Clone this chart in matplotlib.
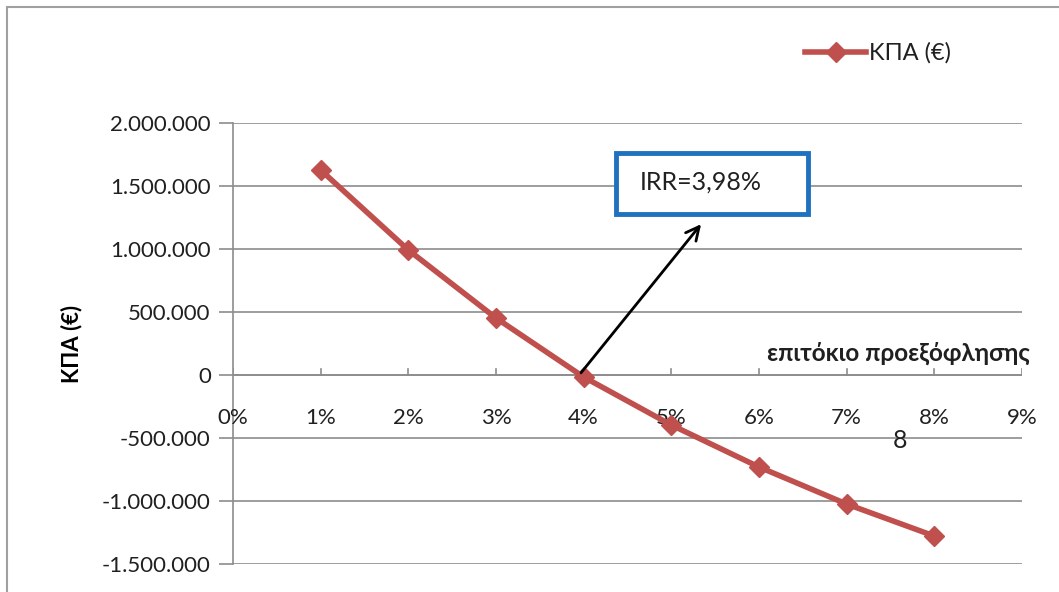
import matplotlib
matplotlib.use("Agg")
import matplotlib.pyplot as plt
from matplotlib.patches import Rectangle
from matplotlib.ticker import FuncFormatter

rates = [1, 2, 3, 4, 5, 6, 7, 8]
npv = [1627000, 992000, 452000, -16000, -397000, -730000, -1024000, -1278000]
x_ticks = [0, 1, 2, 3, 4, 5, 6, 7, 8, 9]
y_ticks = [-1500000, -1000000, -500000, 0, 500000, 1000000, 1500000, 2000000]
series_name = "ΚΠΑ (€)"
y_label = "ΚΠΑ (€)"
x_label = "επιτόκιο προεξόφλησης"
irr_text = "IRR=3,98%"

plt.rcParams['font.family'] = ['Lato', 'DejaVu Sans']

fig = plt.figure(figsize=(10.59, 5.92), dpi=100)
fig.patch.set_facecolor('white')
fig.patches.append(Rectangle((0.007, -0.05), 1.2, 1.038, transform=fig.transFigure,
                             fill=False, edgecolor='#a0a0a0', linewidth=1.5))

ax = fig.add_axes([0.22, 0.0473, 0.745, 0.745])
ax.set_xlim(0, 9)
ax.set_ylim(-1500000, 2000000)

ax.set_yticks(y_ticks)
ax.set_xticks(x_ticks)
ax.yaxis.set_major_formatter(FuncFormatter(lambda v, p: f"{int(v):,}".replace(",", ".")))

ax.grid(axis='y', color='#8c8c8c', linewidth=1.2)
ax.set_axisbelow(True)
for s in ['top', 'right', 'bottom']:
    ax.spines[s].set_visible(False)
ax.spines['left'].set_color('#8c8c8c')
ax.spines['left'].set_linewidth(1.2)
ax.axhline(0, color='#8c8c8c', linewidth=1.2, zorder=1)

ax.tick_params(axis='y', length=10, color='#8c8c8c', width=1.2, labelsize=16, pad=6,
               labelcolor='#202020')
ax.tick_params(axis='x', length=0)
ax.set_xticklabels([])
for t in x_ticks:
    ax.plot([t, t], [0, 45000], color='#8c8c8c', linewidth=1.2, zorder=1)
    ax.text(t, -340000, f"{t}%", ha='center', va='center', fontsize=16, color='#202020')

ax.plot(rates, npv, color='#C0504D', linewidth=4, marker='D', markersize=10,
        markerfacecolor='#C0504D', markeredgecolor='#C0504D', label=series_name, zorder=3)

ax.set_ylabel(y_label, fontsize=16, fontweight='bold', labelpad=14)
ax.text(9.09, 175000, x_label, ha='right', va='center', fontsize=17.5, fontweight='bold',
        color='#202020')

ax.annotate("", xy=(5.36, 1214000), xytext=(3.95, 0),
            arrowprops=dict(arrowstyle='->', color='black', lw=2, mutation_scale=24))
ax.add_patch(Rectangle((4.37, 1278000), 2.19, 484000, facecolor='white',
                       edgecolor='#1f72bf', linewidth=3.5, zorder=4))
ax.text(4.64, 1530000, irr_text, ha='left', va='center', fontsize=18, color='#202020', zorder=5)
ax.text(7.61, -516000, "8", ha='center', va='center', fontsize=18, color='#202020')

leg = ax.legend(loc='center left', bbox_to_anchor=(0.740, 0.91), bbox_transform=fig.transFigure,
                frameon=False, fontsize=17, handlelength=2.6, handletextpad=0.1)
for txt in leg.get_texts():
    txt.set_color('#202020')

fig.savefig("out.png", dpi=100)
